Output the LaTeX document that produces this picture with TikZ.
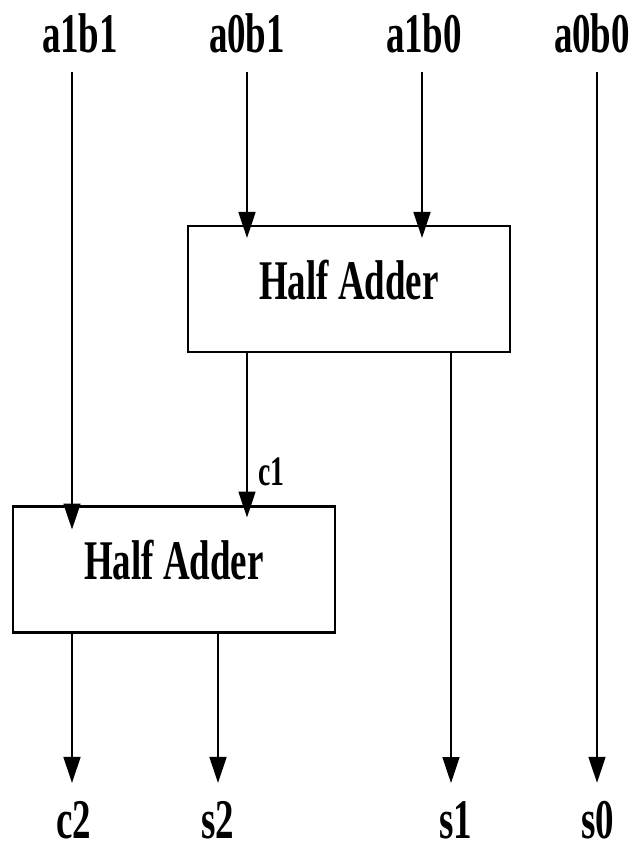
\documentclass[tikz,border=0pt]{standalone}
\usepackage{fontspec}
\setmainfont{Liberation Serif}[FakeStretch=0.66]
\usetikzlibrary{arrows.meta}
\begin{document}
\begin{tikzpicture}[x=1pt,y=-1pt,
  lab/.style={font=\fontsize{56}{60}\selectfont\bfseries, inner sep=0pt, outer sep=0pt, anchor=base},
  smalllab/.style={font=\fontsize{42}{46}\selectfont\bfseries, inner sep=0pt, outer sep=0pt, anchor=base west},
  ha/.style={draw, line width=2.2pt, minimum width=322pt, minimum height=126pt, inner sep=0pt, outer sep=0pt,
    text height=38pt, text depth=18pt, font=\fontsize{56}{60}\selectfont\bfseries},
  wire/.style={line width=1.6pt, -{Triangle[length=26pt,width=17pt]}}]
\useasboundingbox (0,0) rectangle (632,850);
% column positions
\coordinate (X1) at (72,0);
\coordinate (X2) at (247,0);
\coordinate (X3) at (422,0);
\coordinate (X4) at (597,0);
\coordinate (X5) at (218,0);
\coordinate (X6) at (451,0);
% inputs
\node[lab] (a1b1) at (80,53) {a1b1};
\node[lab] (a0b1) at (247,53) {a0b1};
\node[lab] (a1b0) at (424,53) {a1b0};
\node[lab] (a0b0) at (592,53) {a0b0};
% half adders
\node[ha] (ha1) at (349,289) {Half Adder};
\node[ha] (ha2) at (174,569.5) {Half Adder};
% outputs
\node[lab] (c2) at (74,838) {c2};
\node[lab] (s2) at (218,838) {s2};
\node[lab] (s1) at (456,838) {s1};
\node[lab] (s0) at (598,838) {s0};
% carry label
\node[smalllab] (c1) at (258,485) {c1};
% wires
\draw[wire] ([yshift=-18pt]a1b1.south -| X1) -- ([yshift=-23pt]ha2.north -| X1);
\draw[wire] ([yshift=-18pt]a0b1.south -| X2) -- ([yshift=-12pt]ha1.north -| X2);
\draw[wire] ([yshift=-18pt]a1b0.south -| X3) -- ([yshift=-12pt]ha1.north -| X3);
\draw[wire] ([yshift=-18pt]a0b0.south -| X4) -- ([yshift=18pt]s0.north -| X4);
\draw[wire] (ha1.south -| X2) -- ([yshift=-11pt]ha2.north -| X2);
\draw[wire] (ha1.south -| X6) -- ([yshift=18pt]s1.north -| X6);
\draw[wire] (ha2.south -| X1) -- ([yshift=18pt]c2.north -| X1);
\draw[wire] (ha2.south -| X5) -- ([yshift=18pt]s2.north -| X5);
\end{tikzpicture}
\end{document}
